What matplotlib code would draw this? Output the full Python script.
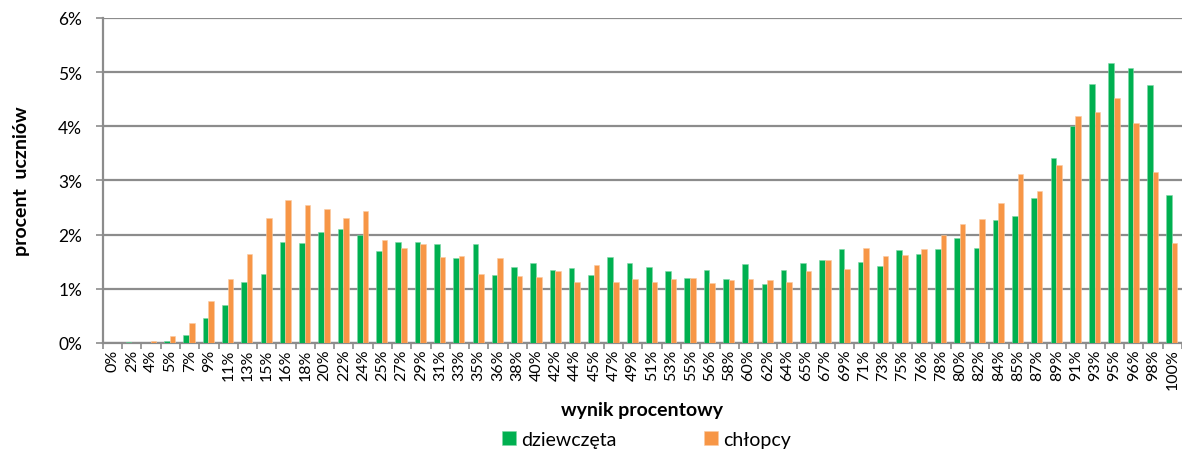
import matplotlib
matplotlib.use('Agg')
import matplotlib.pyplot as plt
from matplotlib.ticker import FixedLocator, PercentFormatter
import numpy as np

# score categories (wynik procentowy)
categories = ['0%', '2%', '4%', '5%', '7%', '9%', '11%', '13%', '15%', '16%',
              '18%', '20%', '22%', '24%', '25%', '27%', '29%', '31%', '33%', '35%',
              '36%', '38%', '40%', '42%', '44%', '45%', '47%', '49%', '51%', '53%',
              '55%', '56%', '58%', '60%', '62%', '64%', '65%', '67%', '69%', '71%',
              '73%', '75%', '76%', '78%', '80%', '82%', '84%', '85%', '87%', '89%',
              '91%', '93%', '95%', '96%', '98%', '100%']

# percent of students
girls = [0.0, 0.02, 0.0, 0.04, 0.15, 0.47, 0.70, 1.13, 1.28, 1.86,
         1.84, 2.04, 2.10, 2.00, 1.69, 1.86, 1.86, 1.83, 1.56, 1.83,
         1.26, 1.41, 1.47, 1.34, 1.39, 1.26, 1.59, 1.48, 1.41, 1.33,
         1.20, 1.35, 1.19, 1.45, 1.09, 1.34, 1.48, 1.54, 1.73, 1.49,
         1.43, 1.71, 1.65, 1.74, 1.93, 1.75, 2.27, 2.35, 2.68, 3.41,
         4.00, 4.79, 5.17, 5.08, 4.76, 2.73]
boys = [0.0, 0.0, 0.04, 0.12, 0.36, 0.78, 1.19, 1.65, 2.30, 2.64,
        2.54, 2.48, 2.30, 2.43, 1.91, 1.75, 1.82, 1.58, 1.60, 1.27,
        1.56, 1.23, 1.22, 1.32, 1.13, 1.44, 1.13, 1.19, 1.13, 1.19,
        1.20, 1.10, 1.16, 1.19, 1.16, 1.13, 1.32, 1.54, 1.36, 1.75,
        1.60, 1.63, 1.73, 1.99, 2.19, 2.29, 2.58, 3.12, 2.81, 3.28,
        4.19, 4.26, 4.53, 4.07, 3.15, 1.85]

GREEN = '#00B050'
ORANGE = '#F79646'
GRID = '#8C8C8C'

plt.rcParams['font.family'] = ['Lato', 'DejaVu Sans']

fig = plt.figure(figsize=(11.82, 4.52), dpi=100)
ax = fig.add_axes([0.0871, 0.239, 0.9129, 0.719])

x = np.arange(len(categories))
w = 0.29
b1 = ax.bar(x - w / 2 - 0.03, girls, width=w, color=GREEN, edgecolor='#7fd8a7', linewidth=0.4,
            label='dziewczęta', zorder=3)
b2 = ax.bar(x + w / 2 - 0.03, boys, width=w, color=ORANGE, edgecolor='#fbcba2', linewidth=0.4,
            label='chłopcy', zorder=3)

ax.set_xlim(-0.5, len(categories) - 0.5)
ax.set_ylim(0, 6)
ax.set_yticks(range(0, 7))
ax.yaxis.set_major_formatter(PercentFormatter(decimals=0))
ax.grid(axis='y', color=GRID, linewidth=1.6, zorder=0)

ax.set_xticks(x)
ax.set_xticklabels(categories, rotation=90, fontsize=11.5)
ax.xaxis.set_minor_locator(FixedLocator(np.arange(-0.5, len(categories), 1)))
ax.tick_params(axis='x', which='major', length=0, pad=4)
ax.tick_params(axis='x', which='minor', length=4, color=GRID, width=1.2)
ax.tick_params(axis='y', length=5, color=GRID, width=1.2, labelsize=12.5, pad=10)

for s in ['top', 'right']:
    ax.spines[s].set_visible(False)
for s in ['left', 'bottom']:
    ax.spines[s].set_color(GRID)
    ax.spines[s].set_linewidth(1.6)

ax.set_xlabel('wynik procentowy', fontsize=14, fontweight='bold', labelpad=8)
ax.set_ylabel('procent  uczniów', fontsize=14, fontweight='bold', labelpad=20)

fig.legend(handles=[b1, b2], loc='center', bbox_to_anchor=(0.547, 0.026), ncol=2,
           frameon=False, fontsize=14, handlelength=0.72, handleheight=0.72,
           handletextpad=0.26, columnspacing=4.5, borderpad=0.1)

fig.savefig('out.png', dpi=100)
